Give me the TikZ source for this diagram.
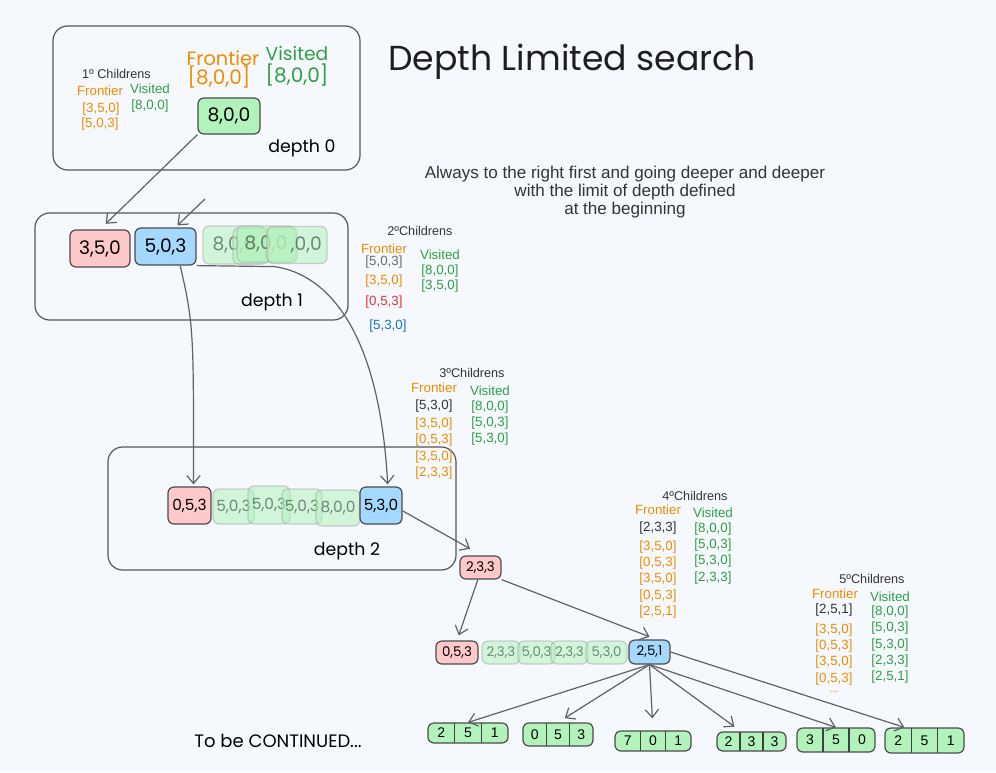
\documentclass[tikz,border=0pt]{standalone}
\usepackage{fontspec}
\setmainfont{Liberation Sans}
\newfontfamily\hand{Poppins}
\usetikzlibrary{arrows.meta,calc}
\definecolor{bg}{HTML}{F5F9FE}
\definecolor{org}{HTML}{F08C00}
\definecolor{grn}{HTML}{2F9E44}
\definecolor{pinkf}{HTML}{FFC9C9}
\definecolor{bluef}{HTML}{A5D8FF}
\definecolor{grnf}{HTML}{B2F2BB}
\definecolor{ink}{HTML}{1E1E1E}
\definecolor{redt}{HTML}{E03131}
\definecolor{bluet}{HTML}{1971C2}
\definecolor{grayt}{HTML}{6B6B6B}
\definecolor{darkt}{HTML}{333333}
\newcommand\fsz[1]{\fontsize{#1}{#1}\selectfont}
\newcommand\cells[4]{\makebox[#1]{#2}\makebox[#1]{#3}\makebox[#1]{#4}}
\begin{document}
\begin{tikzpicture}[x=0.75pt,y=-0.75pt,
  sz/.style 2 args={minimum width=#1*0.75pt, minimum height=#2*0.75pt},
  st/.style={draw=ink!80, line width=0.9pt, rounded corners=4.5pt, inner sep=0pt, font=\hand\fsz{14}},
  pinkbox/.style={st, fill=pinkf},
  bluebox/.style={st, fill=bluef},
  greenbox/.style={st, fill=grnf},
  fadebox/.style={st, draw=ink!40, fill=grnf, fill opacity=0.55, draw opacity=0.5, text opacity=0.45},
  cellbox/.style={st, fill=grnf, font=\fsz{10.5},
    path picture={
      \draw[ink!85, line width=0.8pt]
        ($(path picture bounding box.south west)!1/3!(path picture bounding box.south east)$) --
        ($(path picture bounding box.north west)!1/3!(path picture bounding box.north east)$)
        ($(path picture bounding box.south west)!2/3!(path picture bounding box.south east)$) --
        ($(path picture bounding box.north west)!2/3!(path picture bounding box.north east)$);}},
  frame/.style={draw=ink!75, line width=0.9pt, rounded corners=11pt, inner sep=0pt},
  hd/.style={text=darkt, font=\fsz{9.5}, inner sep=0pt},
  fr/.style={text=org, font=\fsz{10}, inner sep=0pt},
  vi/.style={text=grn, font=\fsz{10}, inner sep=0pt},
  hw/.style={font=\hand\fsz{13}, inner sep=0pt},
  arr/.style={draw=ink!70, line width=0.9pt, -{Straight Barb[length=6pt,width=10pt]}}
]
\useasboundingbox[fill=bg] (0,0) rectangle (996,772);

% frames
\node[frame, sz={307}{144}] (box0) at (206.5,98) {};
\node[frame, sz={313}{107}] (box1) at (191.5,266.5) {};
\node[frame, sz={348}{123}] (box2) at (282,508.5) {};

% title and description
\node[font=\hand\fsz{26}, text=ink, inner sep=0pt] (title) at (572,62) {Depth Limited search};
\node[text=darkt, font=\fsz{12.8}, align=center, inner sep=0pt] (desc) at (625,192)
  {Always to the right first and going deeper and deeper\\[0.5pt] with the limit of depth defined\\[0.5pt] at the beginning};

% depth 0
\node[hd] (h1) at (116.5,74) {1º Childrens};
\node[fr] (f1) at (100,91) {Frontier};
\node[vi] (v1) at (150,89) {Visited};
\node[fr] (f1a) at (101,109) {[3,5,0]};
\node[fr] (f1b) at (100,124) {[5,0,3]};
\node[vi] (v1a) at (150,106) {[8,0,0]};
\node[hw, text=org, font=\hand\fsz{14.5}] (hf0) at (223,58) {Frontier};
\node[hw, text=org, font=\hand\fsz{15}] (hf0a) at (219,77) {[8,0,0]};
\node[hw, text=grn, font=\hand\fsz{14}] (hv0) at (297,53) {Visited};
\node[hw, text=grn, font=\hand\fsz{15}] (hv0a) at (297,75) {[8,0,0]};
\node[greenbox, sz={62}{36}] (n800) at (229,116) {8,0,0};
\node[hw] (d0) at (302,148) {depth 0};

% depth 1
\node[pinkbox, sz={60}{37}] (n350) at (100,248.5) {3,5,0};
\node[bluebox, sz={61}{37}] (n503) at (165.5,246.5) {5,0,3};
\node[fadebox, sz={62}{38}] (fa) at (234,245) {8,0,0};
\node[fadebox, sz={36}{36}] (fb) at (251,246) {};
\node[fadebox, sz={58}{36}] (fc) at (266,244) {8,0,0};
\node[fadebox, sz={30}{35}] (fd) at (282,245) {};
\node[fadebox, sz={60}{37}] (fe) at (297,245) {\hspace*{14pt},0,0};
\node[hw] (d1) at (272,302) {depth 1};

% 2 children
\node[hd] (h2) at (420,231) {2ºChildrens};
\node[fr] (f2) at (384,249) {Frontier};
\node[fr, text=grayt] (f2a) at (384,262) {[5,0,3]};
\node[fr] (f2b) at (384,281) {[3,5,0]};
\node[fr, text=redt] (f2c) at (384,302) {[0,5,3]};
\node[fr, text=bluet] (f2d) at (388,326) {[5,3,0]};
\node[vi] (v2) at (440,255) {Visited};
\node[vi] (v2a) at (440,271) {[8,0,0]};
\node[vi] (v2b) at (440,286) {[3,5,0]};

% 3 children
\node[hd] (h3) at (472,373) {3ºChildrens};
\node[fr] (f3) at (434,388) {Frontier};
\node[fr, text=darkt] (f3a) at (434,406) {[5,3,0]};
\node[fr] (f3b) at (434,424) {[3,5,0]};
\node[fr] (f3c) at (434,440) {[0,5,3]};
\node[fr] (f3d) at (434,457) {[3,5,0]};
\node[fr] (f3e) at (434,473) {[2,3,3]};
\node[vi] (v3) at (490,391) {Visited};
\node[vi] (v3a) at (490,407) {[8,0,0]};
\node[vi] (v3b) at (490,423) {[5,0,3]};
\node[vi] (v3c) at (490,439) {[5,3,0]};

% depth 2
\node[pinkbox, sz={43}{37}, font=\hand\fsz{11.5}] (n053) at (189.5,505.5) {0,5,3};
\node[fadebox, sz={41}{35}, font=\hand\fsz{11.5}] (g1) at (233.5,506.5) {5,0,3};
\node[fadebox, sz={42}{38}, font=\hand\fsz{11.5}] (g2) at (269,505) {5,0,3};
\node[fadebox, sz={40}{35}, font=\hand\fsz{11.5}] (g3) at (302,506.5) {5,0,3};
\node[fadebox, sz={44}{36}, font=\hand\fsz{11.5}] (g4) at (338,508) {8,0,0};
\node[bluebox, sz={42}{37}, font=\hand\fsz{11.5}] (n530) at (381,505.5) {5,3,0};
\node[hw] (d2) at (347,551) {depth 2};

\node[pinkbox, sz={41}{23}, font=\hand\fsz{10}] (n233) at (480.5,567.5) {2,3,3};

% 4 children
\node[hd] (h4) at (695,496) {4ºChildrens};
\node[fr] (f4) at (658,510) {Frontier};
\node[fr, text=darkt] (f4a) at (658,528) {[2,3,3]};
\node[fr] (f4b) at (658,547) {[3,5,0]};
\node[fr] (f4c) at (658,563) {[0,5,3]};
\node[fr] (f4d) at (658,579) {[3,5,0]};
\node[fr] (f4e) at (658,596) {[0,5,3]};
\node[fr] (f4f) at (658,612) {[2,5,1]};
\node[vi] (v4) at (713,513) {Visited};
\node[vi] (v4a) at (713,529) {[8,0,0]};
\node[vi] (v4b) at (713,545) {[5,0,3]};
\node[vi] (v4c) at (713,561) {[5,3,0]};
\node[vi] (v4d) at (713,578) {[2,3,3]};

% 5 children
\node[hd] (h5) at (872,579) {5ºChildrens};
\node[fr] (f5) at (835,594) {Frontier};
\node[fr, text=darkt] (f5a) at (834,610) {[2,5,1]};
\node[fr] (f5b) at (834,630) {[3,5,0]};
\node[fr] (f5c) at (834,646) {[0,5,3]};
\node[fr] (f5d) at (834,662) {[3,5,0]};
\node[fr] (f5e) at (834,679) {[0,5,3]};
\node[fr, font=\fsz{8}] (f5f) at (834,692) {...};
\node[vi] (v5) at (890,597) {Visited};
\node[vi] (v5a) at (890,612) {[8,0,0]};
\node[vi] (v5b) at (890,628) {[5,0,3]};
\node[vi] (v5c) at (890,645) {[5,3,0]};
\node[vi] (v5d) at (890,661) {[2,3,3]};
\node[vi] (v5e) at (890,677) {[2,5,1]};

% row 4
\node[pinkbox, sz={42}{23}, font=\hand\fsz{10}] (r053) at (457,652.5) {0,5,3};
\node[fadebox, sz={38}{23}, font=\hand\fsz{10}] (k1) at (501,652.5) {2,3,3};
\node[fadebox, sz={37}{23}, font=\hand\fsz{10}] (k2) at (536.5,652.5) {5,0,3};
\node[fadebox, sz={37}{23}, font=\hand\fsz{10}] (k3) at (569.5,652.5) {2,3,3};
\node[fadebox, sz={41}{23}, font=\hand\fsz{10}] (k4) at (606.5,652.5) {5,3,0};
\node[bluebox, sz={41}{24}, font=\hand\fsz{10}] (r251) at (649.5,652) {2,5,1};

% bottom row
\node[cellbox, sz={80}{20}] (b1) at (468,733) {\cells{20pt}{2}{5}{1}};
\node[cellbox, sz={70}{23}] (b2) at (558,734.5) {\cells{17.5pt}{0}{5}{3}};
\node[cellbox, sz={76}{20}] (b3) at (653,741) {\cells{19pt}{7}{0}{1}};
\node[cellbox, sz={69}{19}] (b4) at (751.5,741.5) {\cells{17.25pt}{2}{3}{3}};
\node[cellbox, sz={78}{24}] (b5) at (836,740) {\cells{19.5pt}{3}{5}{0}};
\node[cellbox, sz={79}{25}] (b6) at (924.5,740.5) {\cells{19.75pt}{2}{5}{1}};

\node[hw, font=\hand\fsz{13.5}] (cont) at (278,741) {To be CONTINUED...};

% connectors
\coordinate (c1) at (205,199);
\draw[arr, shorten >=6pt] (n800.south west) -- (n350.north);
\draw[arr] (c1) -- ([xshift=9pt, yshift=1.5pt]n503.north);
\draw[arr] ([xshift=11pt]n503.south) .. controls +(14,60) and +(0,-150) .. ([xshift=3pt,yshift=1.5pt]n053.north);
\draw[arr] (n503.south east) -- ++(78,1) .. controls +(55,8) and +(-8,-150) .. ([xshift=5pt,yshift=1.5pt]n530.north);
\draw[arr] ([yshift=-4pt]n530.east) -- ([xshift=8pt,yshift=5pt]n233.north west);
\draw[arr, shorten >=4pt] ([xshift=-2pt]n233.south) -- (r053.north);
\draw[arr] (n233.south east) -- ([yshift=2pt]r251.north);
\draw[arr] (r251.south) -- (b1.north);
\draw[arr, shorten >=6pt] (r251.south) -- (b2.north);
\draw[arr, shorten >=9pt] (r251.south) -- (b3.north);
\draw[arr, shorten >=6pt] (r251.south) -- ($(b4.north west)!0.35!(b4.north east)$);
\draw[arr] (r251.south) -- (b5.north);
\draw[arr] (r251.east) -- ($(b6.north west)!0.25!(b6.north east)$);
\end{tikzpicture}
\end{document}
